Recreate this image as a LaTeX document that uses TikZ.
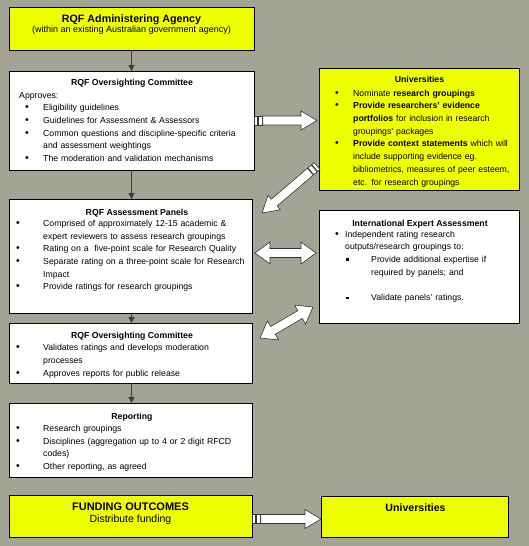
\documentclass[tikz,border=0pt]{standalone}
\usepackage{fontspec}
\setmainfont{Liberation Sans}
\usetikzlibrary{calc,arrows.meta}
\definecolor{bg}{RGB}{163,163,150}
\definecolor{yel}{RGB}{238,255,0}
\definecolor{connc}{RGB}{60,60,60}
\newcommand{\bodyfont}{\fontsize{8.7}{12.7}\selectfont}
\newcommand{\bigbul}{{\fontsize{10.5}{10}\selectfont\textbullet}}
\newcommand{\fitem}[3]{\noindent\hangindent=\dimexpr#1+#2\relax\hangafter=1\hspace*{#1}\makebox[#2][l]{\bigbul}\strut#3}
\newcommand{\bitem}[3]{\par\fitem{#1}{#2}{#3}}
\newcommand{\sqitem}[3]{\par\noindent\hangindent=\dimexpr#1+#2\relax\hangafter=1\hspace*{#1}\makebox[#2][l]{\rule[1.3pt]{2.8pt}{2.8pt}}\strut#3}
\newcommand{\getdir}[2]{\path let \p1=(#1), \p2=(#2) in \pgfextra{\pgfmathparse{veclen(\x2-\x1,\y2-\y1)}\xdef\balen{\pgfmathresult}\pgfmathparse{atan2(\y2-\y1,\x2-\x1)}\xdef\baang{\pgfmathresult}};}
\newcommand{\sblkarrow}[2]{\getdir{#1}{#2}%
\begin{scope}[shift={(#1)},rotate=\baang]
 \draw[blk] (0,-4.5) rectangle (3,4.5);
 \draw[blk] (3.8,-4.5) rectangle (8,4.5);
 \draw[blk] (8.8,-4.5) -- (\balen-16,-4.5) -- (\balen-16,-9.5) -- (\balen,0) -- (\balen-16,9.5) -- (\balen-16,4.5) -- (8.8,4.5) -- cycle;
\end{scope}}
\newcommand{\dblkarrow}[2]{\getdir{#1}{#2}%
\begin{scope}[shift={(#1)},rotate=\baang]
 \draw[blk] (0,0) -- (15,-11) -- (15,-4.5) -- (\balen-15,-4.5) -- (\balen-15,-11) -- (\balen,0) -- (\balen-15,11) -- (\balen-15,4.5) -- (15,4.5) -- (15,11) -- cycle;
\end{scope}}
\begin{document}
\begin{tikzpicture}[x=1pt,y=-1pt,
  box/.style={draw=black, line width=0.9pt, anchor=north west, inner sep=0pt, outer sep=0pt},
  wbox/.style={box, fill=white},
  ybox/.style={box, fill=yel},
  ttl/.style={font=\fontsize{8.7}{10}\selectfont\bfseries, inner sep=0pt, anchor=base},
  body/.style={font=\bodyfont, inner sep=0pt, anchor=north west, text width=#1, align=left},
  conn/.style={draw=connc, line width=1pt, -{Triangle[width=6pt,length=6pt]}},
  blk/.style={draw=black!80, line width=0.6pt, fill=white, line join=miter}]
\path[fill=bg] (0,0) rectangle (529,546);

% boxes
\node[ybox, minimum width=245pt, minimum height=43pt] (agency) at (9,7) {};
\node[wbox, minimum width=245pt, minimum height=99pt] (comm1) at (9,71) {};
\node[ybox, minimum width=200pt, minimum height=122pt] (uni1) at (319,68) {};
\node[wbox, minimum width=243pt, minimum height=114pt] (panels) at (9,199) {};
\node[wbox, minimum width=200pt, minimum height=113pt] (iea) at (319,210) {};
\node[wbox, minimum width=243pt, minimum height=60pt] (comm2) at (9,323) {};
\node[wbox, minimum width=243pt, minimum height=74pt] (report) at (9,403) {};
\node[ybox, minimum width=243pt, minimum height=42pt] (funding) at (9,495) {};
\node[ybox, minimum width=187pt, minimum height=41pt] (uni2) at (321,496) {};

% texts
\node[ttl, font=\fontsize{10.7}{12}\selectfont\bfseries] (agencyt) at (131.5,22) {RQF Administering Agency};
\node[ttl, font=\fontsize{9}{10}\selectfont] (agencys) at (131.5,32.5) {(within an existing Australian government agency)};

\node[ttl] (comm1t) at (132,85) {RQF Oversighting Committee};
\node[body=232pt] (comm1b) at (19,89.1) {\noindent\strut Approves:
\bitem{6pt}{18pt}{Eligibility guidelines}
\bitem{6pt}{18pt}{Guidelines for Assessment \& Assessors}
\bitem{6pt}{18pt}{Common questions and discipline-specific criteria\newline and assessment weightings}
\bitem{6pt}{18pt}{The moderation and validation mechanisms}\par};

\node[ttl] (uni1t) at (419.5,82) {Universities};
\node[body=182pt] (uni1b) at (335,87.1) {\fitem{0pt}{18pt}{Nominate \textbf{research groupings}}
\bitem{0pt}{18pt}{\textbf{Provide researchers’ evidence}\newline \textbf{portfolios} for inclusion in research\newline groupings’ packages}
\bitem{0pt}{18pt}{\textbf{Provide context statements} which will\newline include supporting evidence eg.\newline bibliometrics, measures of peer esteem,\newline etc. for research groupings}\par};

\node[ttl] (panelst) at (137,215) {RQF Assessment Panels};
\node[body=234pt] (panelsb) at (16,217.4) {\fitem{0pt}{27pt}{Comprised of approximately 12-15 academic \&\newline expert reviewers to assess research groupings}
\bitem{0pt}{27pt}{Rating on a~ five-point scale for Research Quality}
\bitem{0pt}{27pt}{Separate rating on a three-point scale for Research\newline Impact}
\bitem{0pt}{27pt}{Provide ratings for research groupings}\par};

\node[ttl] (ieat) at (420,226) {International Expert Assessment};
\node[body=182pt] (ieab) at (335,228.1) {\fitem{0pt}{10pt}{Independent rating research\newline outputs/research groupings to:}
\sqitem{11pt}{25pt}{Provide additional expertise if\newline required by panels; and}
\par\noindent\strut
\sqitem{11pt}{25pt}{Validate panels’ ratings.}\par};

\node[ttl] (comm2t) at (132,338) {RQF Oversighting Committee};
\node[body=234pt] (comm2b) at (16,341.8) {\fitem{0pt}{27pt}{Validates ratings and develops moderation\newline processes}
\bitem{0pt}{27pt}{Approves reports for public release}\par};

\node[ttl] (reportt) at (132,419) {Reporting};
\node[body=234pt] (reportb) at (16,422.4) {\fitem{0pt}{27pt}{Research groupings}
\bitem{0pt}{27pt}{Disciplines (aggregation up to 4 or 2 digit RFCD\newline codes)}
\bitem{0pt}{27pt}{Other reporting, as agreed}\par};

\node[ttl, font=\fontsize{11}{12}\selectfont\bfseries] (fundingt) at (130.5,510.5) {FUNDING OUTCOMES};
\node[ttl, font=\fontsize{10.5}{12}\selectfont] (fundings) at (130.5,522.5) {Distribute funding};
\node[ttl, font=\fontsize{10.6}{12}\selectfont\bfseries] (uni2t) at (415.5,511.5) {Universities};

% thin connectors
\draw[conn] (agency.south) -- (comm1.north);
\draw[conn] (comm1.south) -- (comm1.south |- panels.north);
\draw[conn] (comm1.south |- panels.south) -- (comm1.south |- comm2.north);
\draw[conn] (comm1.south |- comm2.south) -- (comm1.south |- report.north);

% block arrows
\coordinate (a1s) at (comm1.east);
\coordinate (a1e) at ($(comm1.east -| uni1.west)+(-2,0)$);
\coordinate (a2s) at ($(uni1.south west)+(-2,-24)$);
\coordinate (a2e) at ($(panels.north east)+(10,14)$);
\coordinate (a3s) at ($(panels.east)+(3,-3)$);
\coordinate (a3e) at ($(panels.east -| iea.west)+(-3,-3)$);
\coordinate (a4s) at ($(iea.south west)+(-6,-16)$);
\coordinate (a4e) at ($(comm2.north east)+(8,15)$);
\coordinate (a5s) at ($(funding.east)+(0,3)$);
\coordinate (a5e) at ($(funding.east -| uni2.west)+(0,3)$);
\sblkarrow{a1s}{a1e}
\sblkarrow{a2s}{a2e}
\dblkarrow{a3s}{a3e}
\dblkarrow{a4s}{a4e}
\sblkarrow{a5s}{a5e}
\end{tikzpicture}
\end{document}
